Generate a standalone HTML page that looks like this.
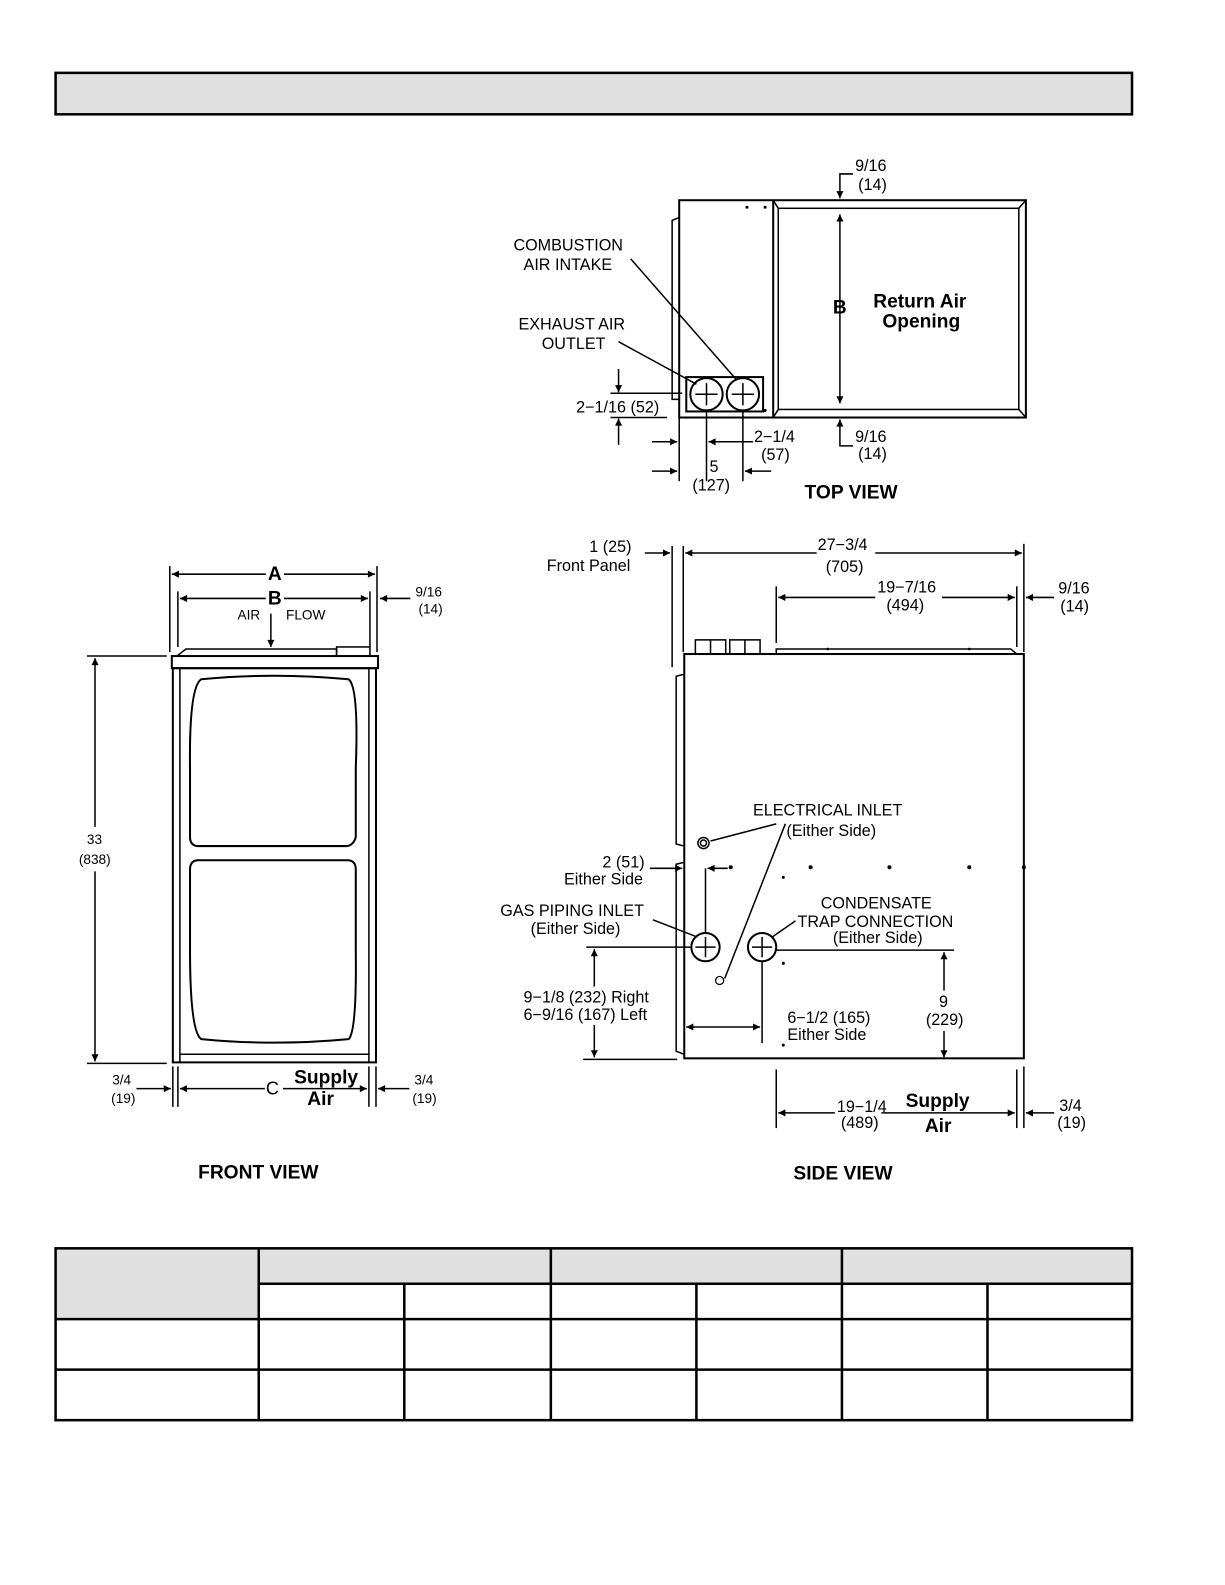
<!DOCTYPE html>
<html><head><meta charset="utf-8"><style>
html,body{margin:0;padding:0;background:#fff}
svg{display:block}
text{font-family:"Liberation Sans",Arial,sans-serif;fill:#000}
.t{font-size:16px}
.b{font-size:19px;font-weight:bold}
.s{font-size:13.5px}
</style></head><body>
<svg width="1225" height="1585" viewBox="0 0 1212 1568" xmlns="http://www.w3.org/2000/svg">
<defs>
<marker id="a" viewBox="0 0 10 10" refX="10" refY="5" markerWidth="14" markerHeight="7" orient="auto-start-reverse" markerUnits="userSpaceOnUse"><path d="M0,0L10,5L0,10z"/></marker>
</defs>
<g stroke="#000" fill="none">
<rect x="55" y="72" width="1065" height="41" fill="#e0e0e0" stroke-width="2.5"/>
<rect x="55" y="1235" width="201" height="70" fill="#e0e0e0" stroke="none"/>
<rect x="256" y="1235" width="864" height="35" fill="#e0e0e0" stroke="none"/>
<g stroke-width="2.5">
<rect x="55" y="1235" width="1065" height="170"/>
<line x1="256" y1="1270" x2="1120" y2="1270"/>
<line x1="55" y1="1305" x2="1120" y2="1305"/>
<line x1="55" y1="1355" x2="1120" y2="1355"/>
<line x1="256" y1="1235" x2="256" y2="1405"/>
<line x1="545" y1="1235" x2="545" y2="1405"/>
<line x1="833" y1="1235" x2="833" y2="1405"/>
<line x1="400" y1="1270" x2="400" y2="1405"/>
<line x1="689" y1="1270" x2="689" y2="1405"/>
<line x1="977" y1="1270" x2="977" y2="1405"/>
</g>

<!-- TOP VIEW -->
<g stroke-width="1.5">
<rect x="672" y="198" width="343" height="215" stroke-width="2"/>
<line x1="765" y1="198" x2="765" y2="413" stroke-width="2"/>
<rect x="770" y="206" width="238" height="199"/>
<line x1="765" y1="198" x2="770" y2="206"/><line x1="1015" y1="198" x2="1008" y2="206"/>
<line x1="765" y1="413" x2="770" y2="405"/><line x1="1015" y1="413" x2="1008" y2="405"/>
<path d="M672,215 L665,218 L665,395 L672,395"/>
<rect x="679" y="373" width="76" height="34" stroke-width="2"/>
<circle cx="699" cy="390" r="16" stroke-width="2"/><circle cx="735" cy="390" r="16" stroke-width="2"/>
<path d="M688,390h22M699,379v22M724,390h22M735,379v22"/>
<line x1="624" y1="256" x2="729" y2="376"/>
<line x1="612" y1="338" x2="689" y2="380"/>
<line x1="831" y1="212" x2="831" y2="399" marker-start="url(#a)" marker-end="url(#a)"/>
<path d="M844,172 H831 V196" marker-end="url(#a)"/>
<path d="M844,441 H831 V415" marker-end="url(#a)"/>
<line x1="604" y1="389" x2="675" y2="389"/>
<line x1="604" y1="413" x2="660" y2="413"/>
<line x1="612" y1="365" x2="612" y2="388" marker-end="url(#a)"/>
<line x1="612" y1="440" x2="612" y2="414" marker-end="url(#a)"/>
<line x1="672" y1="413" x2="672" y2="476"/>
<line x1="699" y1="406" x2="699" y2="476"/>
<line x1="735" y1="406" x2="735" y2="476"/>
<line x1="645" y1="437" x2="670" y2="437" marker-end="url(#a)"/>
<line x1="745" y1="437" x2="701" y2="437" marker-end="url(#a)"/>
<line x1="645" y1="466" x2="670" y2="466" marker-end="url(#a)"/>
<line x1="763" y1="466" x2="737" y2="466" marker-end="url(#a)"/>
</g>
<g fill="#000" stroke="none"><circle cx="739" cy="205" r="1.5"/><circle cx="757" cy="205" r="1.5"/><circle cx="739" cy="406" r="1.5"/><circle cx="757" cy="406" r="1.5"/></g>

<!-- FRONT VIEW -->
<g stroke-width="1.5">
<rect x="170" y="649" width="204" height="12" stroke-width="2"/>
<rect x="171" y="661" width="201" height="390" stroke-width="2"/>
<line x1="178" y1="661" x2="178" y2="1051"/><line x1="365" y1="661" x2="365" y2="1051"/>
<line x1="178" y1="1043" x2="365" y2="1043"/>
<path d="M199,672 Q270,665 345,672 Q355,680 352,760 L352,828 Q350,836 343,837 L195,837 Q188,836 188,828 L188,760 Q187,680 199,672Z" stroke-width="2"/>
<path d="M195,851 L345,851 Q352,852 352,860 L352,940 Q353,1020 345,1028 Q270,1035 199,1028 Q188,1020 188,940 L188,860 Q188,852 195,851Z" stroke-width="2"/>
<path d="M175,649 L184,642 L333,642 L333,649"/><rect x="333" y="640" width="33" height="9"/>
<line x1="168" y1="560" x2="168" y2="645"/><line x1="373" y1="560" x2="373" y2="645"/>
<line x1="176" y1="585" x2="176" y2="640"/><line x1="366" y1="585" x2="366" y2="640"/>
<line x1="170" y1="568" x2="263" y2="568" marker-start="url(#a)"/><line x1="281" y1="568" x2="371" y2="568" marker-end="url(#a)"/>
<line x1="178" y1="592" x2="263" y2="592" marker-start="url(#a)"/><line x1="281" y1="592" x2="364" y2="592" marker-end="url(#a)"/>
<line x1="406" y1="592" x2="376" y2="592" marker-end="url(#a)"/>
<line x1="268" y1="607" x2="268" y2="640" marker-end="url(#a)"/>
<line x1="86" y1="649" x2="165" y2="649"/><line x1="86" y1="1052" x2="165" y2="1052"/>
<line x1="94" y1="651" x2="94" y2="818" marker-start="url(#a)"/>
<line x1="94" y1="862" x2="94" y2="1050" marker-end="url(#a)"/>
<line x1="171" y1="1055" x2="171" y2="1095"/><line x1="176" y1="1055" x2="176" y2="1095"/>
<line x1="365" y1="1055" x2="365" y2="1095"/><line x1="372" y1="1055" x2="372" y2="1095"/>
<line x1="135" y1="1077" x2="169" y2="1077" marker-end="url(#a)"/>
<line x1="178" y1="1077" x2="262" y2="1077" marker-start="url(#a)"/><line x1="280" y1="1077" x2="363" y2="1077" marker-end="url(#a)"/>
<line x1="405" y1="1077" x2="374" y2="1077" marker-end="url(#a)"/>
</g>

<!-- SIDE VIEW -->
<g stroke-width="1.5">
<rect x="677" y="647" width="336" height="400" stroke-width="2"/>
<rect x="688" y="633" width="30" height="14"/><line x1="703" y1="633" x2="703" y2="647"/>
<rect x="722" y="633" width="30" height="14"/><line x1="737" y1="633" x2="737" y2="647"/>
<path d="M768,647 L768,642 L1000,642 L1006,647"/>
<path d="M677,667 L669,669 L669,835 L677,837"/>
<path d="M677,853 L669,855 L669,1040 L677,1043"/>
<line x1="665" y1="540" x2="665" y2="660"/><line x1="676" y1="540" x2="676" y2="645"/>
<line x1="1013" y1="538" x2="1013" y2="645"/>
<line x1="768" y1="580" x2="768" y2="636"/><line x1="1006" y1="580" x2="1006" y2="640"/>
<line x1="638" y1="547" x2="663" y2="547" marker-end="url(#a)"/>
<line x1="678" y1="547" x2="808" y2="547" marker-start="url(#a)"/><line x1="866" y1="547" x2="1011" y2="547" marker-end="url(#a)"/>
<line x1="770" y1="591" x2="866" y2="591" marker-start="url(#a)"/><line x1="932" y1="591" x2="1004" y2="591" marker-end="url(#a)"/>
<line x1="1043" y1="591" x2="1015" y2="591" marker-end="url(#a)"/>
<circle cx="696" cy="834" r="5.5"/><circle cx="696" cy="834" r="3"/>
<line x1="703" y1="832" x2="768" y2="815"/>
<line x1="777" y1="815" x2="717" y2="968"/>
<circle cx="698" cy="937" r="14" stroke-width="2"/><path d="M688,937h20M698,927v20"/>
<circle cx="754" cy="937" r="14" stroke-width="2"/><path d="M744,937h20M754,927v20"/>
<line x1="646" y1="910" x2="690" y2="927"/>
<line x1="764" y1="927" x2="787" y2="911"/>
<line x1="698" y1="859" x2="698" y2="923"/>
<line x1="643" y1="859" x2="675" y2="859" marker-end="url(#a)"/>
<line x1="720" y1="859" x2="700" y2="859" marker-end="url(#a)"/>
<line x1="580" y1="937" x2="684" y2="937"/>
<line x1="768" y1="940" x2="944" y2="940"/>
<line x1="577" y1="1048" x2="670" y2="1048"/>
<line x1="588" y1="939" x2="588" y2="976" marker-start="url(#a)"/>
<line x1="588" y1="1014" x2="588" y2="1046" marker-end="url(#a)"/>
<line x1="754" y1="951" x2="754" y2="1032"/>
<line x1="679" y1="1016" x2="752" y2="1016" marker-start="url(#a)" marker-end="url(#a)"/>
<line x1="934" y1="942" x2="934" y2="980" marker-start="url(#a)"/>
<line x1="934" y1="1020" x2="934" y2="1046" marker-end="url(#a)"/>
<line x1="768" y1="1058" x2="768" y2="1116"/><line x1="1006" y1="1058" x2="1006" y2="1116"/>
<line x1="1013" y1="1055" x2="1013" y2="1116"/>
<line x1="770" y1="1101" x2="826" y2="1101" marker-start="url(#a)"/><line x1="872" y1="1101" x2="1004" y2="1101" marker-end="url(#a)"/>
<line x1="1043" y1="1101" x2="1015" y2="1101" marker-end="url(#a)"/>
</g>
<g fill="#000" stroke="none">
<circle cx="802" cy="858" r="2"/><circle cx="880" cy="858" r="2"/><circle cx="959" cy="858" r="2"/><circle cx="1013" cy="858" r="2"/>
<circle cx="775" cy="868" r="1.5"/><circle cx="775" cy="953" r="1.5"/><circle cx="775" cy="1034" r="1.5"/><circle cx="723" cy="858" r="2"/>
<circle cx="819" cy="642" r="1.3"/><circle cx="959" cy="642" r="1.3"/>
</g>
<circle cx="712" cy="970" r="4" stroke="#000" fill="none" stroke-width="1.2"/>
</g>

<!-- text -->
<text class="t" x="846" y="169">9/16</text><text class="t" x="849" y="188">(14)</text>
<text class="t" x="508" y="248">COMBUSTION</text><text class="t" x="518" y="267">AIR INTAKE</text>
<text class="t" x="513" y="326">EXHAUST AIR</text><text class="t" x="536" y="345">OUTLET</text>
<text class="b" x="824" y="310">B</text>
<text class="b" x="864" y="304">Return Air</text><text class="b" x="873" y="324">Opening</text>
<text class="t" x="570" y="408">2−1/16 (52)</text>
<text class="t" x="746" y="437">2−1/4</text><text class="t" x="753" y="455">(57)</text>
<text class="t" x="846" y="437">9/16</text><text class="t" x="849" y="454">(14)</text>
<text class="t" x="702" y="467">5</text><text class="t" x="685" y="485">(127)</text>
<text class="b" x="796" y="493">TOP VIEW</text>

<text class="t" x="583" y="546">1 (25)</text><text class="t" x="541" y="565">Front Panel</text>
<text class="t" x="809" y="544">27−3/4</text><text class="t" x="817" y="566">(705)</text>
<text class="t" x="868" y="586">19−7/16</text><text class="t" x="877" y="604">(494)</text>
<text class="t" x="1047" y="587">9/16</text><text class="t" x="1049" y="605">(14)</text>
<text class="t" x="745" y="807">ELECTRICAL INLET</text><text class="t" x="778" y="827">(Either Side)</text>
<text class="t" x="596" y="858">2 (51)</text><text class="t" x="558" y="875">Either Side</text>
<text class="t" x="495" y="906">GAS PIPING INLET</text><text class="t" x="525" y="924">(Either Side)</text>
<text class="t" x="812" y="899">CONDENSATE</text><text class="t" x="789" y="917">TRAP CONNECTION</text><text class="t" x="824" y="933">(Either Side)</text>
<text class="t" x="518" y="992">9−1/8 (232) Right</text><text class="t" x="518" y="1009">6−9/16 (167) Left</text>
<text class="t" x="779" y="1012">6−1/2 (165)</text><text class="t" x="779" y="1029">Either Side</text>
<text class="t" x="929" y="996">9</text><text class="t" x="916" y="1014">(229)</text>
<text class="t" x="828" y="1100">19−1/4</text><text class="t" x="832" y="1116">(489)</text>
<text class="b" x="896" y="1095">Supply</text><text class="b" x="915" y="1120">Air</text>
<text class="t" x="1048" y="1099">3/4</text><text class="t" x="1046" y="1116">(19)</text>
<text class="b" x="785" y="1167">SIDE VIEW</text>

<text class="b" x="265" y="574">A</text><text class="b" x="265" y="598">B</text>
<text class="s" x="235" y="613">AIR</text><text class="s" x="283" y="613">FLOW</text>
<text class="s" x="411" y="590">9/16</text><text class="s" x="414" y="607">(14)</text>
<text class="s" x="86" y="835">33</text><text class="s" x="78" y="855">(838)</text>
<text class="s" x="111" y="1073">3/4</text><text class="s" x="110" y="1091">(19)</text>
<text x="263" y="1083" style="font-size:18px">C</text>
<text class="b" x="291" y="1072">Supply</text><text class="b" x="304" y="1093">Air</text>
<text class="s" x="410" y="1073">3/4</text><text class="s" x="408" y="1091">(19)</text>
<text class="b" x="196" y="1166">FRONT VIEW</text>
</svg>
</body></html>
